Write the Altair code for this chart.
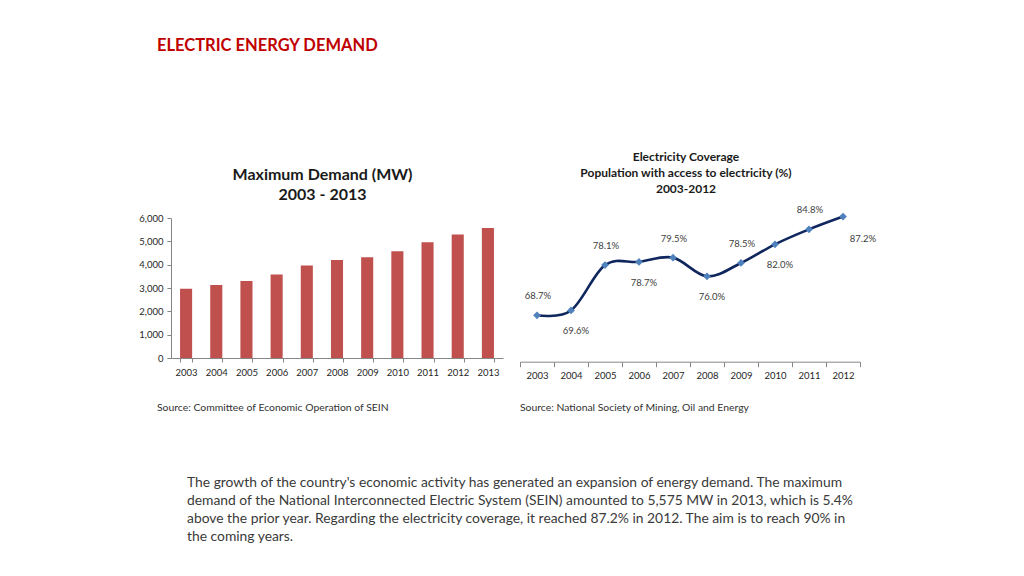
import altair as alt
import pandas as pd

# ---------------- data ----------------
years_bar = ["2003", "2004", "2005", "2006", "2007", "2008", "2009", "2010", "2011", "2012", "2013"]
demand_mw = [2965, 3131, 3305, 3580, 3966, 4199, 4322, 4579, 4961, 5291, 5575]
demand_ticks = [0, 1000, 2000, 3000, 4000, 5000, 6000]

years_line = ["2003", "2004", "2005", "2006", "2007", "2008", "2009", "2010", "2011", "2012"]
coverage_pct = [68.7, 69.6, 78.1, 78.7, 79.5, 76.0, 78.5, 82.0, 84.8, 87.2]
label_above_years = ["2003", "2005", "2007", "2009", "2011"]
label_below_years = ["2004", "2006", "2008", "2010"]
label_right_years = ["2012"]

main_title = "ELECTRIC ENERGY DEMAND"
bar_title = ["Maximum Demand (MW)", "2003 - 2013"]
line_title = ["Electricity Coverage", "Population with access to electricity (%)", "2003-2012"]
source_left = "Source: Committee of Economic Operation of SEIN"
source_right = "Source: National Society of Mining, Oil and Energy"
paragraph = [
    "The growth of the country's economic activity has generated an expansion of energy demand. The maximum",
    "demand of the National Interconnected Electric System (SEIN) amounted to 5,575 MW in 2013, which is 5.4%",
    "above the prior year. Regarding the electricity coverage, it reached 87.2% in 2012. The aim is to reach 90% in",
    "the coming years.",
]

FONT = "Lato"
W, H = 1008, 560

df_bar = pd.DataFrame({"year": years_bar, "mw": demand_mw})
df_line = pd.DataFrame({"year": years_line, "pct": coverage_pct})
one = pd.DataFrame({"k": [0]})


def text_layer(txt, x, y, size, color="#000000", weight="normal", align="left", line_height=None):
    kw = dict(font=FONT, fontSize=size, color=color, fontWeight=weight, align=align, baseline="alphabetic")
    if line_height is not None:
        kw["lineHeight"] = line_height
    return alt.Chart(one).mark_text(**kw).encode(
        x=alt.value(x), y=alt.value(y), text=alt.value(txt)
    )


# ---------------- bar chart ----------------
bar_x_scale = alt.Scale(type="band", domain=years_bar, range=[163, 495], paddingInner=0.6, paddingOuter=0.3)
bar_y_scale = alt.Scale(domain=[0, 6000], range=[350, 210], nice=False)

bar = alt.Chart(df_bar).mark_bar(color="#C0504D").encode(
    x=alt.X("year:O", sort=None, scale=bar_x_scale,
            axis=alt.Axis(title=None, orient="bottom", offset=350 - H, labelAngle=0,
                          tickBand="extent", tickSize=4, labelPadding=5,
                          labelFont=FONT, labelFontSize=9.5, labelColor="#262626",
                          domainColor="#868686", tickColor="#868686", grid=False)),
    y=alt.Y("mw:Q", scale=bar_y_scale,
            axis=alt.Axis(title=None, orient="left", offset=-163, values=demand_ticks, format=",.0f",
                          tickSize=4, labelPadding=4, labelFont=FONT, labelFontSize=9.5,
                          labelColor="#262626", domainColor="#868686", tickColor="#868686",
                          grid=False)),
)

# ---------------- line chart ----------------
axis_y_line = 353.7
line_x_scale = alt.Scale(type="band", domain=years_line, range=[512, 852], paddingInner=0, paddingOuter=0)
line_y_scale = alt.Scale(domain=[60, 90], range=[axis_y_line, 193.6], nice=False, zero=False)

x_line_axis = alt.X("year:O", sort=None, scale=line_x_scale,
                    axis=alt.Axis(title=None, orient="bottom", offset=axis_y_line - H, labelAngle=0,
                                  tickBand="extent", tickSize=5, labelPadding=4,
                                  labelFont=FONT, labelFontSize=9.5, labelColor="#262626",
                                  domainColor="#868686", tickColor="#868686", grid=False))
x_line_noaxis = alt.X("year:O", sort=None, scale=line_x_scale, axis=None)
y_line = alt.Y("pct:Q", scale=line_y_scale, axis=None)

line = alt.Chart(df_line).mark_line(interpolate="cardinal", color="#10275E", strokeWidth=2.6).encode(
    x=x_line_axis, y=y_line
)
points = alt.Chart(df_line).mark_point(shape="diamond", filled=True, size=60, color="#4F81BD", opacity=1).encode(
    x=x_line_noaxis, y=y_line
)


def label_layer(years, dx, dy):
    return alt.Chart(df_line).transform_filter(
        alt.FieldOneOfPredicate(field="year", oneOf=years)
    ).transform_calculate(
        label="format(datum.pct, '.1f') + '%'"
    ).mark_text(font=FONT, fontSize=9.5, color="#404040", dx=dx, dy=dy, baseline="middle").encode(
        x=x_line_noaxis, y=y_line, text="label:N"
    )


labels_above = label_layer(label_above_years, 1, -19)
labels_below = label_layer(label_below_years, 5, 21)
labels_right = label_layer(label_right_years, 20, 22)

# ---------------- texts ----------------
t_main = text_layer(main_title, 149, 43, 16.5, color="#C00000", weight="bold")
t_bar = text_layer(bar_title, 314.5, 172, 16, color="#1A1A1A", weight="bold", align="center", line_height=20)
t_line = text_layer(line_title, 678, 153.3, 12, color="#1A1A1A", weight="bold", align="center", line_height=16)
t_src1 = text_layer(source_left, 149, 403, 10.4, color="#333333")
t_src2 = text_layer(source_right, 512, 403, 10.4, color="#333333")
t_par = text_layer(paragraph, 179, 478.5, 13.85, color="#3A3A3A", line_height=18)

chart = alt.layer(
    bar, line, points, labels_above, labels_below, labels_right,
    t_main, t_bar, t_line, t_src1, t_src2, t_par,
).resolve_scale(
    x="independent", y="independent"
).properties(
    width=W, height=H, autosize="none", padding=0, background="#FFFFFF"
).configure_view(strokeWidth=0)

chart.save("out.html", embed_options={"renderer": "svg", "actions": False})
